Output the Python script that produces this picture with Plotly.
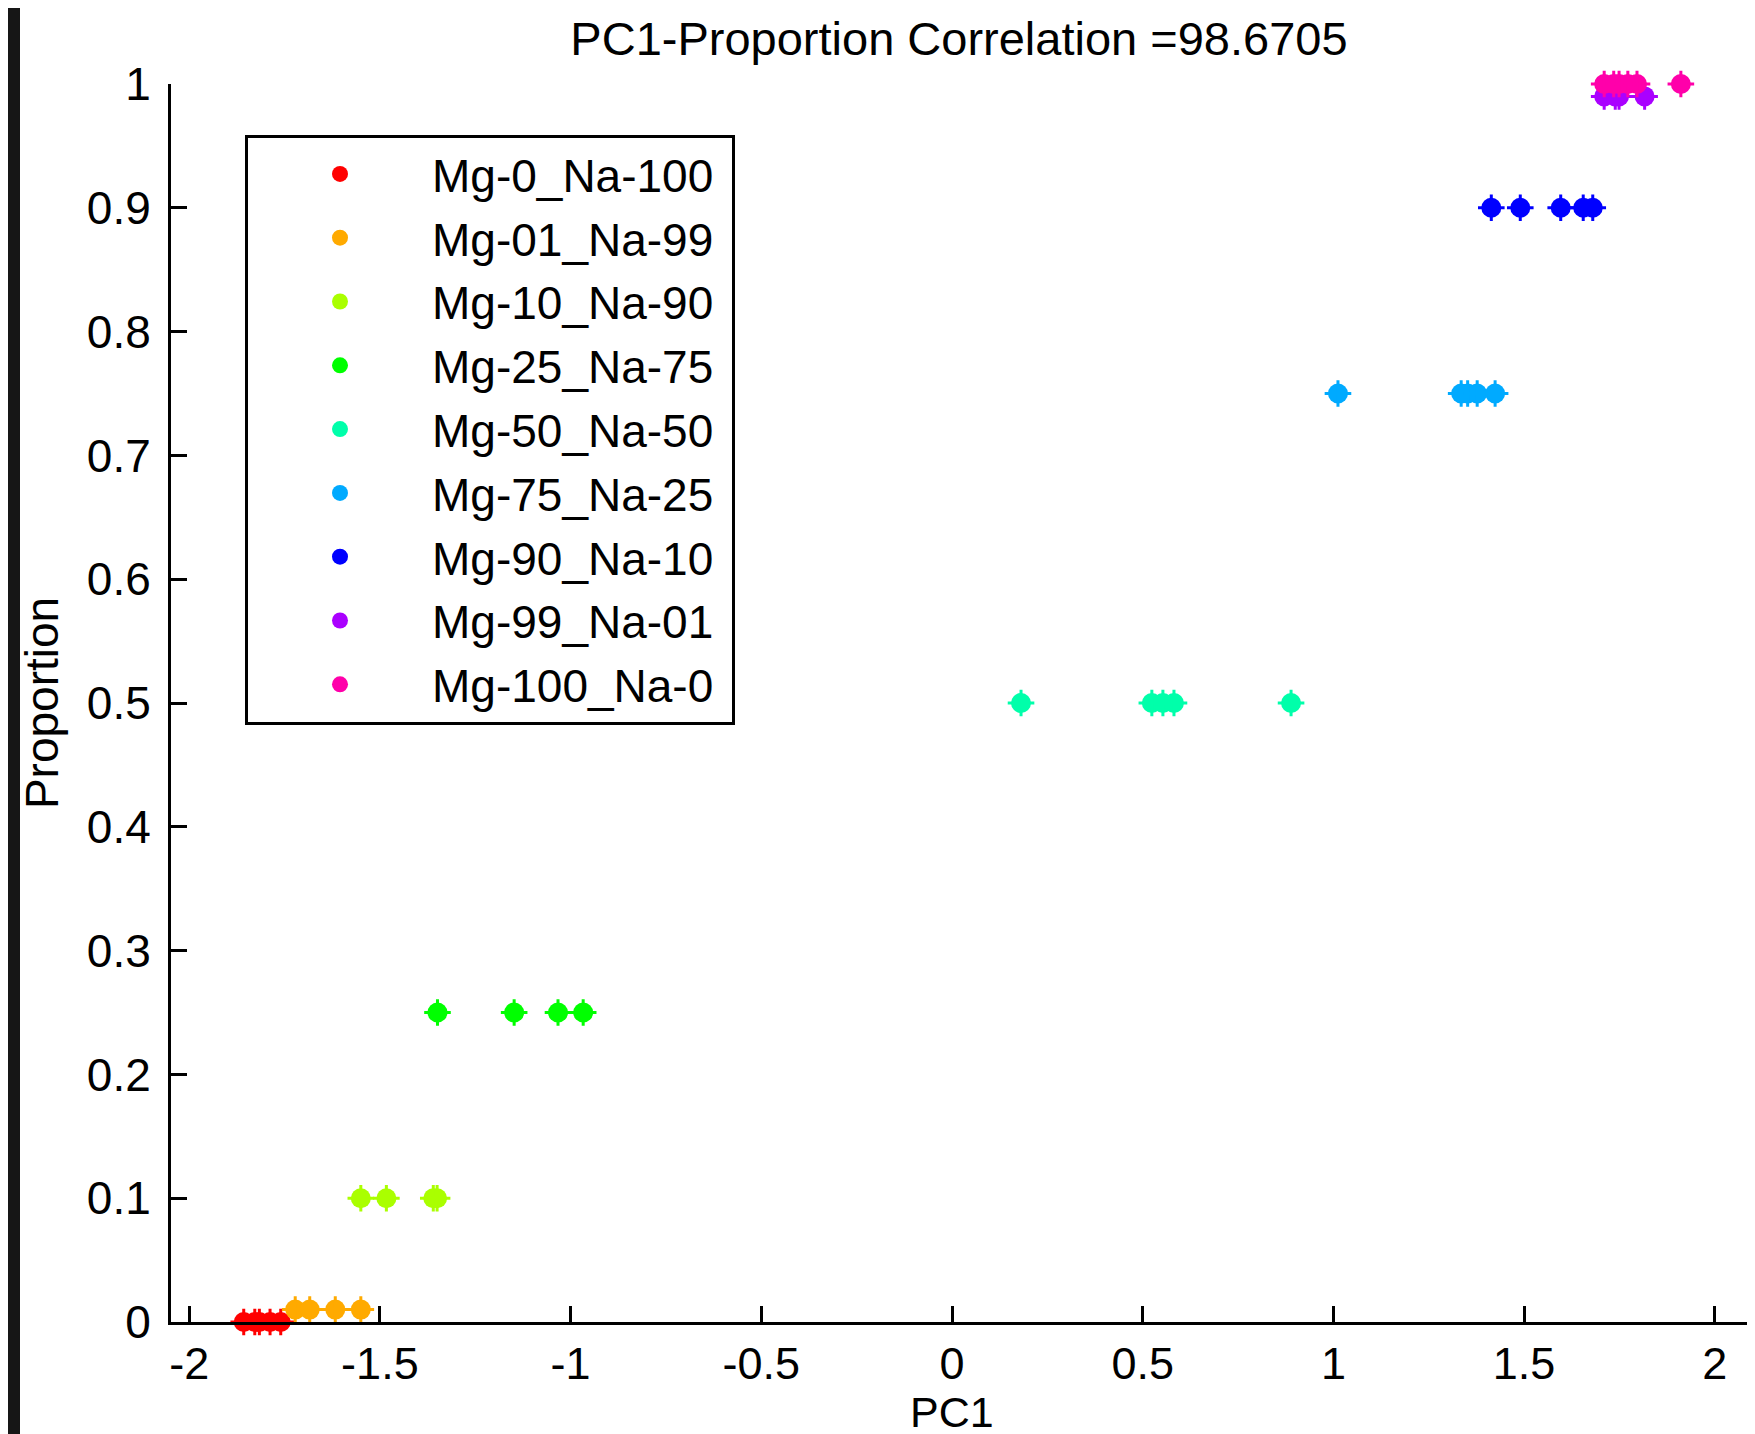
import plotly.graph_objects as go

# ---------------- data ----------------
names = ["Mg-0_Na-100", "Mg-01_Na-99", "Mg-10_Na-90", "Mg-25_Na-75", "Mg-50_Na-50",
         "Mg-75_Na-25", "Mg-90_Na-10", "Mg-99_Na-01", "Mg-100_Na-0"]
colors = ["#FF0000", "#FFAA00", "#AAFF00", "#00FF00", "#00FFAA",
          "#00AAFF", "#0000FF", "#AA00FF", "#FF00AA"]
proportions = [0.0, 0.01, 0.10, 0.25, 0.50, 0.75, 0.90, 0.99, 1.00]

pc1_mg0 = [-1.857, -1.828, -1.816, -1.788, -1.760]
pc1_mg01 = [-1.722, -1.684, -1.617, -1.550]
pc1_mg10 = [-1.550, -1.483, -1.360, -1.350]
pc1_mg25 = [-1.349, -1.148, -1.033, -0.967]
pc1_mg50 = [0.181, 0.524, 0.553, 0.582, 0.889]
pc1_mg75 = [1.012, 1.335, 1.352, 1.377, 1.424]
pc1_mg90 = [1.414, 1.490, 1.596, 1.655, 1.680]
pc1_mg99 = [1.710, 1.739, 1.749, 1.816]
pc1_mg100 = [1.710, 1.735, 1.749, 1.772, 1.796, 1.911]

pc1_groups = [pc1_mg0, pc1_mg01, pc1_mg10, pc1_mg25, pc1_mg50,
              pc1_mg75, pc1_mg90, pc1_mg99, pc1_mg100]

x_tickvals = [-2, -1.5, -1, -0.5, 0, 0.5, 1, 1.5, 2]
x_ticktext = ["-2", "-1.5", "-1", "-0.5", "0", "0.5", "1", "1.5", "2"]
y_tickvals = [0, 0.1, 0.2, 0.3, 0.4, 0.5, 0.6, 0.7, 0.8, 0.9, 1]
y_ticktext = ["0", "0.1", "0.2", "0.3", "0.4", "0.5", "0.6", "0.7", "0.8", "0.9", "1"]

title_text = "PC1-Proportion Correlation =98.6705"
x_label = "PC1"
y_label = "Proportion"

# ---------------- figure ----------------
W, H = 1755, 1434
ML, MR, MT, MB = 163, 0, 76, 120
PW, PH = W - ML - MR, H - MT - MB
FONT = "Liberation Sans, Arial, sans-serif"

fig = go.Figure()
for i, (nm, col, p, xs) in enumerate(zip(names, colors, proportions, pc1_groups)):
    ys = [p] * len(xs)
    fig.add_trace(go.Scatter(
        x=xs, y=ys, mode="markers", name=nm + "\u00a0", legendgroup=nm,
        marker=dict(symbol="circle", size=20, color=col, line=dict(width=0)),
        cliponaxis=False,
    ))
    fig.add_trace(go.Scatter(
        x=xs, y=ys, mode="markers", showlegend=False, legendgroup=nm,
        marker=dict(symbol="cross-thin", size=19, color=col,
                    line=dict(width=3, color=col)),
        cliponaxis=False, hoverinfo="skip",
    ))

x_hi = (W - 944) / 381.4

fig.update_layout(
    width=W, height=H,
    margin=dict(l=ML, r=MR, t=MT, b=MB, autoexpand=False),
    paper_bgcolor="white", plot_bgcolor="white",
    font=dict(family=FONT, size=46, color="black"),
    title=dict(text=title_text, x=(951 - ML) / PW, xref="paper", xanchor="center",
               y=1 - 31 / H, yref="container", yanchor="middle",
               font=dict(family=FONT, size=47, color="black")),
    xaxis=dict(range=[-2.0477, x_hi], tickvals=x_tickvals, ticktext=x_ticktext,
               showgrid=False, zeroline=False, showline=True, linecolor="black",
               linewidth=3, ticks="inside", ticklen=16, tickwidth=3, tickcolor="black",
               tickfont=dict(family=FONT, size=45), ticklabelstandoff=0,
               automargin=False),
    yaxis=dict(range=[0, 1], tickvals=y_tickvals, ticktext=y_ticktext,
               showgrid=False, zeroline=False, showline=True, linecolor="black",
               linewidth=3, ticks="inside", ticklen=16, tickwidth=3, tickcolor="black",
               tickfont=dict(family=FONT, size=46), ticklabelstandoff=8,
               title=dict(text=y_label, standoff=14, font=dict(family=FONT, size=46)),
               automargin=False),
    legend=dict(x=(237 - ML) / PW, y=1 - (126.5 - MT) / PH, xanchor="left", yanchor="top",
                bgcolor="white", bordercolor="black", borderwidth=3,
                font=dict(family=FONT, size=46, color="black"),
                itemwidth=174, tracegroupgap=1, itemclick=False),
    showlegend=True,
    annotations=[dict(text=x_label, xref="paper", yref="paper",
                      x=(944 - ML) / PW, y=-(1404 - (MT + PH)) / PH,
                      xanchor="center", yanchor="middle", showarrow=False,
                      borderpad=0,
                      font=dict(family=FONT, size=43, color="black"))],
    shapes=[dict(type="rect", xref="paper", yref="paper",
                 x0=-ML / PW, x1=(12 - ML) / PW, y0=-MB / PH, y1=1 + MT / PH,
                 fillcolor="#161616", line=dict(width=0), layer="above")],
)

fig.write_html("out.html")
